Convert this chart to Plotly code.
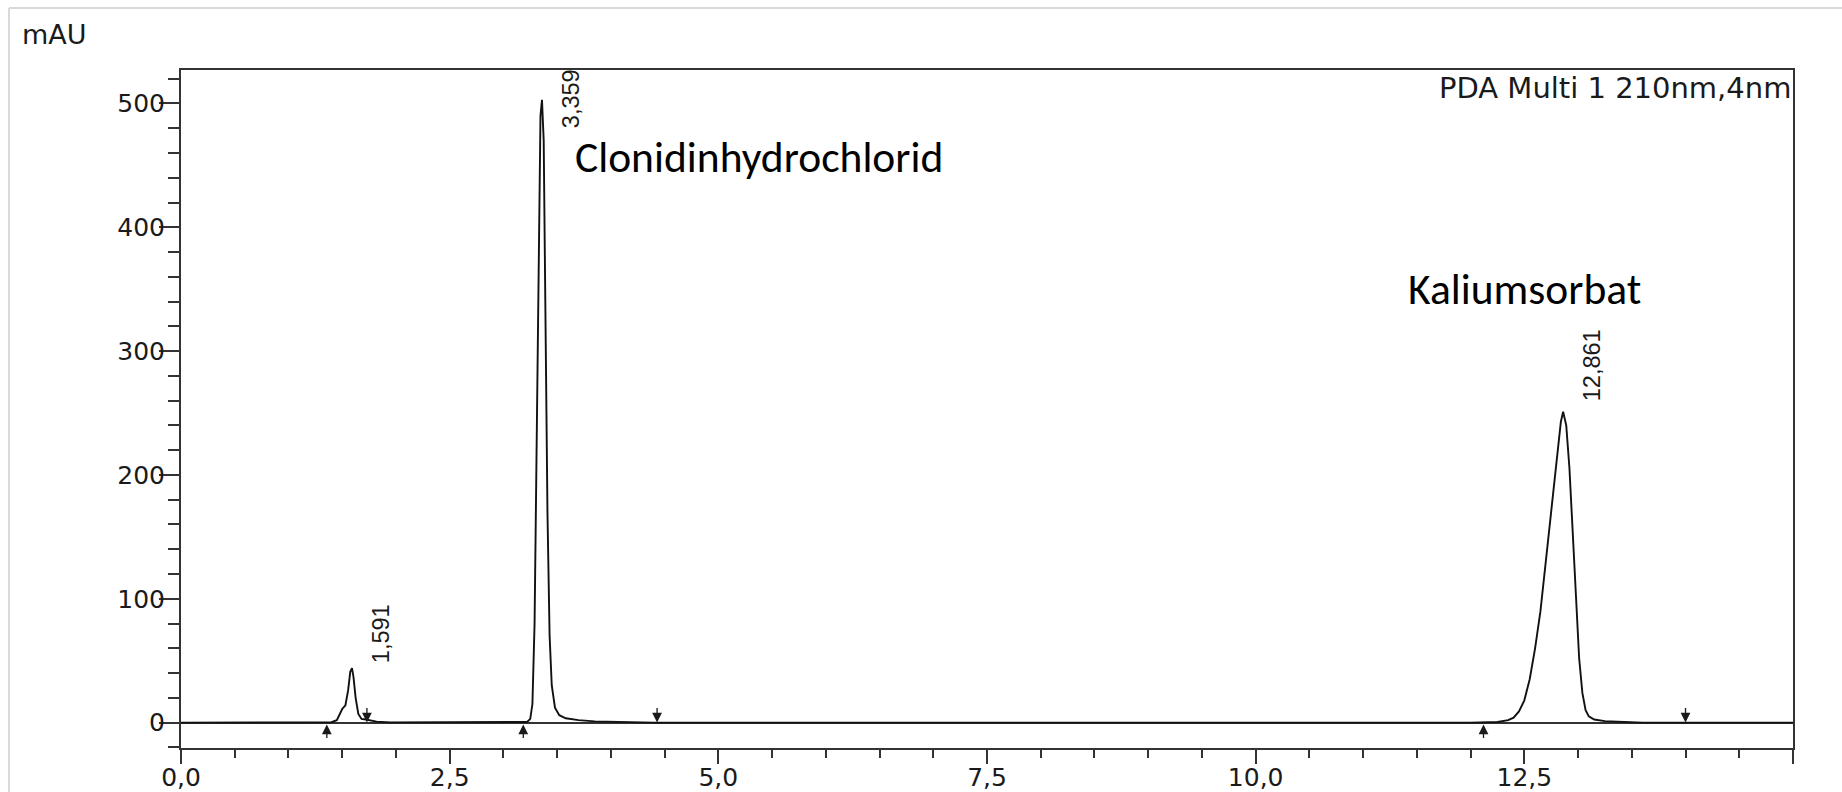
import plotly.graph_objects as go

# ---- data ----
time_min = [0.0, 1.30, 1.40, 1.45, 1.48, 1.50, 1.53, 1.555, 1.575, 1.591, 1.605, 1.625, 1.65, 1.68, 1.72, 1.76, 1.82, 1.95,
            3.15, 3.22, 3.25, 3.27, 3.29, 3.31, 3.33, 3.345, 3.359, 3.375, 3.39, 3.41, 3.43, 3.45, 3.48, 3.52, 3.58, 3.70, 3.85, 4.05, 4.40,
            12.00, 12.25, 12.35, 12.40, 12.45, 12.50, 12.55, 12.60, 12.65, 12.70, 12.75, 12.80, 12.84, 12.861, 12.89, 12.92, 12.95,
            12.98, 13.01, 13.04, 13.07, 13.10, 13.15, 13.25, 13.40, 13.60, 15.0]
absorbance_mau = [0, 0, 0.3, 2, 7, 11, 14, 26, 41, 44, 37, 20, 7, 3, 2.5, 2, 0.8, 0.2,
                  0, 0.5, 3, 15, 80, 230, 420, 490, 503, 470, 340, 170, 70, 30, 12, 6, 3.5, 2, 1, 0.5, 0,
                  0, 0.5, 2, 4, 9, 18, 35, 60, 90, 130, 172, 215, 243, 251, 240, 205, 150,
                  95, 52, 24, 10, 5, 2.5, 1.2, 0.5, 0, 0]

peak_rt = [1.591, 3.359, 12.861]
peak_height = [44, 503, 251]
peak_labels = ["1,591", "3,359", "12,861"]

peak_start = [1.357, 3.185, 12.12]   # integration start markers (up arrows)
peak_end = [1.73, 4.43, 14.0]        # integration end markers (down arrows)

compound_names = ["Clonidinhydrochlorid", "Kaliumsorbat"]
compound_rt = [3.359, 12.861]

x_tick_vals = [0, 2.5, 5.0, 7.5, 10.0, 12.5, 15.0]
x_tick_text = ["0,0", "2,5", "5,0", "7,5", "10,0", "12,5", ""]
y_tick_vals = [0, 100, 200, 300, 400, 500]
y_tick_text = ["0", "100", "200", "300", "400", "500"]

detector_text = "PDA Multi 1 210nm,4nm"
y_unit = "mAU"

# ---- figure ----
INK = "#1a1a1a"
AXIS = "#333333"
TICKFONT = dict(family="DejaVu Sans", size=25, color=INK)

fig = go.Figure()
fig.add_trace(go.Scatter(x=time_min, y=absorbance_mau, mode="lines",
                         line=dict(color="#111111", width=1.9),
                         hoverinfo="skip", showlegend=False))

annotations = []
# peak retention time labels (rotated)
label_bottom = [46, 478, 258]
for rt, txt, yb in zip(peak_rt, peak_labels, label_bottom):
    annotations.append(dict(x=rt + 0.27, y=yb, xref="x", yref="y", text=txt, textangle=-90,
                            showarrow=False, xanchor="center", yanchor="bottom",
                            font=dict(family="Liberation Sans Narrow, Arial Narrow, Liberation Sans", size=23.5, color=INK)))
# integration markers
for xs in peak_start:
    annotations.append(dict(x=xs, y=-1.5, xref="x", yref="y", text="", showarrow=True,
                            ax=0, ay=15, arrowhead=2, arrowsize=1.5, arrowwidth=1.3, arrowcolor=INK))
for xe in peak_end:
    annotations.append(dict(x=xe, y=0, xref="x", yref="y", text="", showarrow=True,
                            ax=0, ay=-16, arrowhead=2, arrowsize=1.5, arrowwidth=1.3, arrowcolor=INK))
# compound names
name_pos = [(3.648, 456), (11.40, 350)]
for name, (xx, yy) in zip(compound_names, name_pos):
    annotations.append(dict(x=xx, y=yy, xref="x", yref="y", text=name, showarrow=False,
                            xanchor="left", yanchor="middle",
                            font=dict(family="Calibri, Carlito, Lato", size=43.5, color="#000000")))
# y unit
annotations.append(dict(x=-0.1, y=1.052, xref="paper", yref="paper", text=y_unit, showarrow=False,
                        xanchor="left", yanchor="middle", font=dict(family="DejaVu Sans", size=27, color=INK)))
# detector info
annotations.append(dict(x=1.0, y=1.002, xref="paper", yref="paper", text=detector_text, showarrow=False,
                        xanchor="right", yanchor="top", font=dict(family="DejaVu Sans", size=29, color=INK)))

shapes = [
    dict(type="line", xref="paper", yref="paper", x0=-0.1067, x1=1.05, y0=1.0914, y1=1.0914,
         line=dict(color="#d9d9d9", width=2)),
    dict(type="line", xref="paper", yref="paper", x0=-0.1067, x1=-0.1067, y0=-0.1, y1=1.0914,
         line=dict(color="#d9d9d9", width=2)),
]

fig.update_layout(
    template="none",
    width=1842, height=792,
    margin=dict(l=181, r=49, t=70, b=44),
    paper_bgcolor="white", plot_bgcolor="white",
    separators=",.",
    showlegend=False,
    annotations=annotations,
    shapes=shapes,
    xaxis=dict(range=[0, 15], automargin=False, showline=True, linecolor=AXIS, linewidth=2, mirror=True,
               showgrid=False, zeroline=False,
               tickmode="array", tickvals=x_tick_vals, ticktext=x_tick_text,
               ticks="outside", ticklen=14, tickwidth=2, tickcolor=AXIS, tickfont=TICKFONT,
               ticklabelstandoff=-8,
               minor=dict(tickmode="linear", tick0=0, dtick=0.5, ticks="outside", ticklen=8,
                          tickwidth=2, tickcolor=AXIS, showgrid=False)),
    yaxis=dict(range=[-20.5, 527], automargin=False, showline=True, linecolor=AXIS, linewidth=2, mirror=True,
               showgrid=False, zeroline=True, zerolinecolor=AXIS, zerolinewidth=1.6,
               tickmode="array", tickvals=y_tick_vals, ticktext=y_tick_text,
               ticks="outside", ticklen=20, tickwidth=2, tickcolor=AXIS, tickfont=TICKFONT,
               ticklabelstandoff=-11,
               minor=dict(tickmode="linear", tick0=0, dtick=20, ticks="outside", ticklen=11,
                          tickwidth=2, tickcolor=AXIS, showgrid=False)),
)

fig.write_html("out.html", config={"displayModeBar": False},
               post_script="document.body.style.margin='0';document.body.style.overflow='hidden';")
